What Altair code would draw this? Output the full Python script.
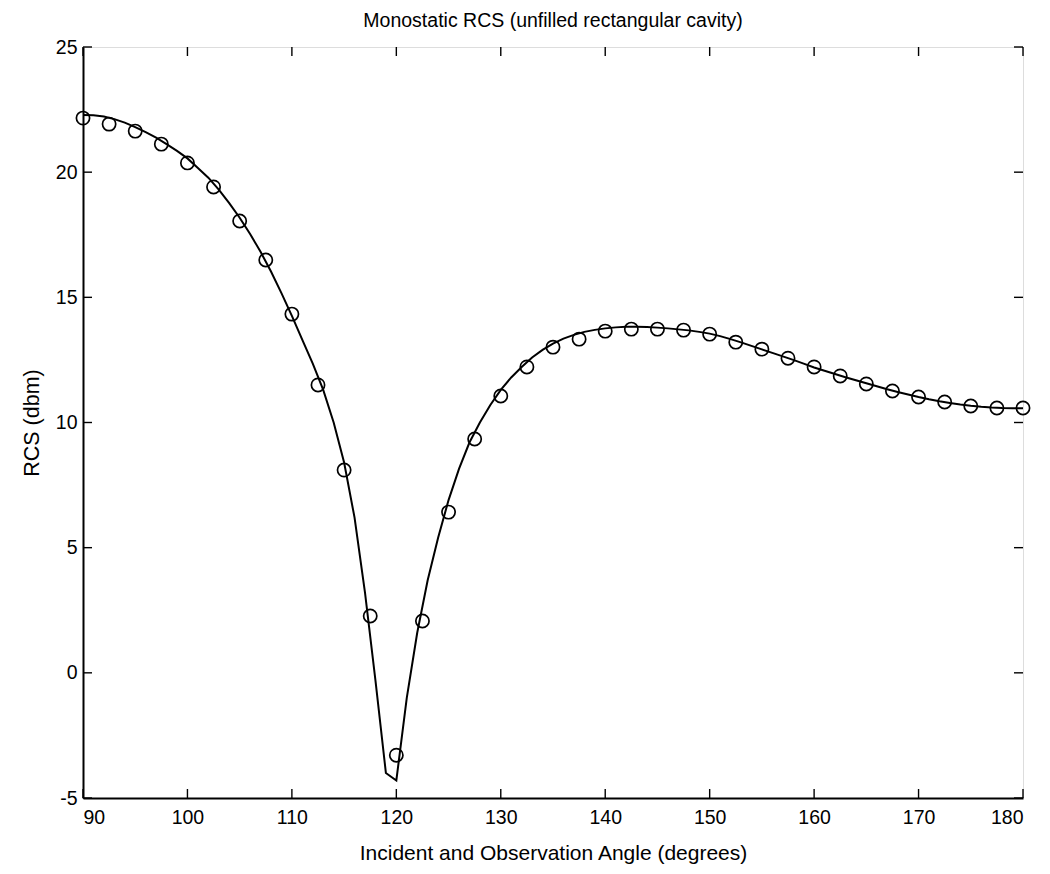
import altair as alt
import pandas as pd

# Measured (circles) every 2.5 degrees
meas_angle = [90, 92.5, 95, 97.5, 100, 102.5, 105, 107.5, 110, 112.5, 115, 117.5, 120,
              122.5, 125, 127.5, 130, 132.5, 135, 137.5, 140, 142.5, 145, 147.5, 150,
              152.5, 155, 157.5, 160, 162.5, 165, 167.5, 170, 172.5, 175, 177.5, 180]
meas_rcs = [22.16, 21.92, 21.64, 21.12, 20.37, 19.41, 18.05, 16.49, 14.33, 11.5, 8.1, 2.27, -3.29,
            2.07, 6.42, 9.34, 11.06, 12.22, 13.01, 13.33, 13.65, 13.73, 13.73, 13.69, 13.53,
            13.21, 12.93, 12.57, 12.22, 11.86, 11.54, 11.26, 11.02, 10.82, 10.66, 10.58, 10.58]

# Computed curve every 1 degree
line_angle = list(range(90, 181))
line_rcs = [22.28, 22.27, 22.22, 22.12, 21.98, 21.8, 21.6, 21.38, 21.12, 20.85,
            20.55, 20.17, 19.78, 19.3, 18.76, 18.18, 17.53, 16.82, 16.03, 15.17,
            14.26, 13.3, 12.35, 11.3, 10.0, 8.4, 6.2, 3.2, -0.3, -4.0,
            -4.3, -1.0, 1.6, 3.7, 5.4, 6.9, 8.15, 9.2, 10.0, 10.7,
            11.3, 11.8, 12.22, 12.6, 12.9, 13.15, 13.35, 13.5, 13.62, 13.7,
            13.76, 13.8, 13.82, 13.82, 13.81, 13.79, 13.76, 13.72, 13.68, 13.62,
            13.55, 13.45, 13.33, 13.2, 13.06, 12.92, 12.78, 12.64, 12.5, 12.35,
            12.2, 12.07, 11.94, 11.81, 11.69, 11.57, 11.45, 11.33, 11.22, 11.12,
            11.02, 10.93, 10.85, 10.78, 10.72, 10.67, 10.63, 10.6, 10.58, 10.57, 10.57]

x_ticks = [90, 100, 110, 120, 130, 140, 150, 160, 170, 180]
y_ticks = [-5, 0, 5, 10, 15, 20, 25]

W, H = 940, 751
FONT = "Liberation Sans"
LFS = 19.5

meas = pd.DataFrame({"angle": meas_angle, "rcs": meas_rcs})
curve = pd.DataFrame({"angle": line_angle, "rcs": line_rcs})
xt = pd.DataFrame({"v": x_ticks})
yt = pd.DataFrame({"v": y_ticks})

xscale = alt.Scale(domain=[90, 180], nice=False, zero=False)
yscale = alt.Scale(domain=[-5, 25], nice=False, zero=False)

xaxis = alt.Axis(values=x_ticks, ticks=False, grid=False, domain=True,
                 domainColor="black", domainWidth=2,
                 labelFont=FONT, labelFontSize=LFS, labelColor="black", labelPadding=10,
                 title="Incident and Observation Angle (degrees)", titleFont=FONT,
                 titleFontSize=21, titleFontWeight="normal", titleColor="black", titlePadding=16)
yaxis = alt.Axis(values=y_ticks, ticks=False, grid=False, domain=True,
                 domainColor="black", domainWidth=2,
                 labelFont=FONT, labelFontSize=LFS, labelColor="black", labelPadding=6,
                 labelExpr="'' + datum.value",
                 title="RCS (dbm)", titleFont=FONT, titleFontSize=21.5,
                 titleFontWeight="normal", titleColor="black", titlePadding=12)

line = alt.Chart(curve).mark_line(color="black", strokeWidth=2).encode(
    x=alt.X("angle:Q", scale=xscale, axis=xaxis),
    y=alt.Y("rcs:Q", scale=yscale, axis=yaxis),
)

pts = alt.Chart(meas).mark_point(shape="circle", filled=False, color="black",
                                 size=175, strokeWidth=1.7, opacity=1).encode(
    x=alt.X("angle:Q", scale=xscale),
    y=alt.Y("rcs:Q", scale=yscale),
)

TL = 9
bt = alt.Chart(xt).mark_rule(color="black", strokeWidth=1.4).encode(
    x=alt.X("v:Q", scale=xscale), y=alt.value(H), y2=alt.value(H - TL))
tt = alt.Chart(xt).mark_rule(color="black", strokeWidth=1.4).encode(
    x=alt.X("v:Q", scale=xscale), y=alt.value(0), y2=alt.value(TL))
lt = alt.Chart(yt).mark_rule(color="black", strokeWidth=1.4).encode(
    y=alt.Y("v:Q", scale=yscale), x=alt.value(0), x2=alt.value(TL))
rt = alt.Chart(yt).mark_rule(color="black", strokeWidth=1.4).encode(
    y=alt.Y("v:Q", scale=yscale), x=alt.value(W), x2=alt.value(W - TL))

chart = alt.layer(line, pts, bt, tt, lt, rt).properties(
    width=W, height=H,
    title=alt.TitleParams("Monostatic RCS (unfilled rectangular cavity)", font=FONT,
                          fontSize=19.5, fontWeight="normal", color="black", offset=6,
                          anchor="middle"),
    autosize=alt.AutoSizeParams(type="none"),
    padding={"left": 75, "top": 39, "right": 12, "bottom": 70},
).configure_view(stroke="black", strokeWidth=2).configure(background="white")

chart.save("out.html", embed_options={"renderer": "svg", "actions": False})
